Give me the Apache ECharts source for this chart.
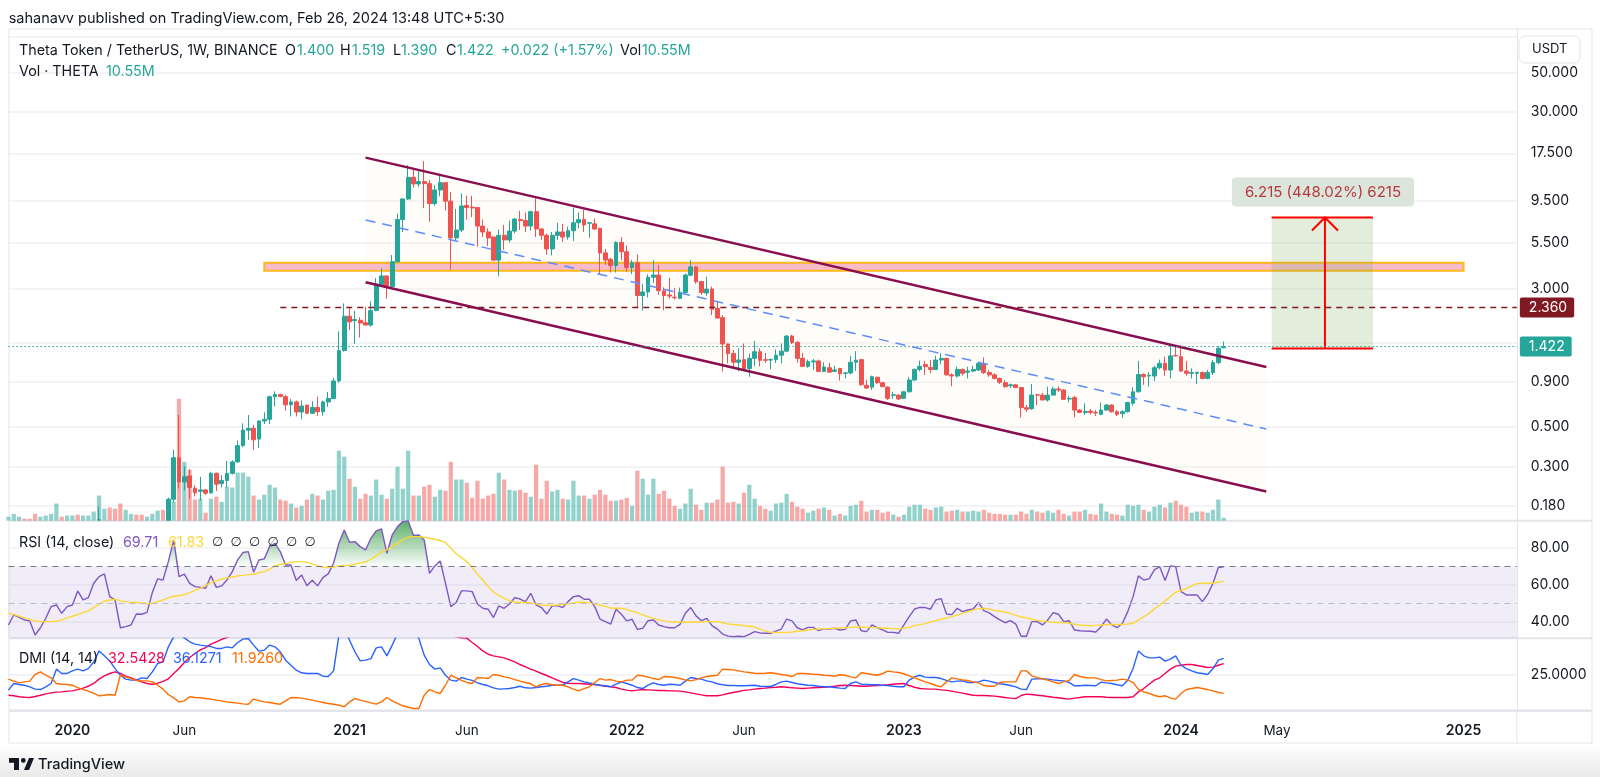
<!DOCTYPE html>
<html>
<head>
    <meta charset="utf-8">
    <title>THETA/USDT 1W</title>
    <script src="https://cdn.jsdelivr.net/npm/echarts@6/dist/echarts.min.js"></script>
    <style>
        html, body { margin: 0; padding: 0; background: #fff; }
        #main { width: 1600px; height: 777px; }
    </style>
</head>
<body>
<div id="main"></div>

<script type="text/javascript">
    // weekly rows: open, high, low, close. starts 2019-10-14, ends 2024-02-26
    // the first rows lie under the pane, nothing of them can be read
    var ohlc = [
        [.098,.104,.094,.100],[.100,.108,.096,.104],[.104,.110,.100,.108],[.108,.110,.102,.106],[.106,.108,.100,.103],
        [.103,.106,.092,.096],[.096,.104,.093,.101],[.101,.108,.099,.105],[.105,.115,.103,.112],[.112,.135,.110,.128],
        [.128,.130,.112,.118],[.118,.126,.114,.122],[.122,.130,.118,.126],[.126,.128,.116,.120],[.120,.128,.116,.125],
        [.125,.130,.118,.128],[.128,.140,.120,.136],[.1495,.178,.149,.150],[.128,.146,.120,.135],[.135,.140,.118,.124],
        [.124,.130,.112,.118],[.118,.120,.098,.102],[.102,.112,.096,.108],[.108,.114,.104,.110],[.110,.112,.104,.106],
        [.106,.110,.102,.104],[.104,.112,.102,.110],[.110,.125,.108,.122],[.122,.142,.120,.136],[.136,.146,.128,.132],
        [.149,.200,.149,.196],[.196,.373,.188,.336],[.336,.585,.225,.245],[.245,.300,.220,.262],[.265,.290,.197,.228],
        [.226,.235,.203,.213],[.217,.262,.193,.221],[.221,.224,.207,.212],[.213,.280,.210,.274],[.274,.277,.218,.238],
        [.240,.268,.228,.250],[.250,.322,.228,.274],[.274,.325,.270,.318],[.318,.420,.314,.393],[.393,.525,.385,.481],
        [.480,.585,.424,.492],[.492,.515,.372,.424],[.428,.548,.380,.541],[.541,.606,.520,.553],[.553,.752,.520,.742],
        [.742,.795,.653,.763],[.763,.770,.735,.745],[.742,.760,.618,.667],[.667,.720,.574,.693],[.693,.705,.574,.608],
        [.608,.705,.553,.657],[.665,.667,.590,.598],[.598,.700,.592,.645],[.645,.742,.578,.610],[.610,.705,.580,.693],
        [.693,.790,.650,.725],[.725,.945,.720,.910],[.910,1.735,.890,1.35],[1.35,2.49,1.33,2.11],[2.11,2.36,1.76,1.96],
        [1.99,2.26,1.47,2.02],[2.00,2.08,1.60,1.93],[1.94,2.38,1.87,1.88],[1.88,2.57,1.84,2.27],[2.27,3.46,2.25,3.20],
        [3.17,3.93,3.10,3.56],[3.56,3.56,2.64,3.10],[3.10,4.67,3.08,4.28],[4.28,8.00,4.23,7.40],[7.40,9.75,6.30,9.67],
        [9.67,15.0,9.55,12.8],[12.8,14.2,11.2,11.75],[11.75,14.2,11.3,12.12],[12.12,15.8,8.60,11.8],[11.8,12.37,7.20,9.10],
        [9.10,11.6,8.85,10.87],[10.87,13.2,10.0,11.95],[11.95,12.0,8.30,9.40],[9.40,10.6,3.84,5.83],[5.83,8.50,5.65,6.46],
        [6.46,10.4,6.30,8.83],[8.90,10.1,7.40,8.65],[8.70,10.05,7.65,8.60],[8.65,8.70,5.20,6.80],[6.80,7.40,5.90,6.30],
        [6.30,6.60,5.25,5.83],[5.90,5.90,4.33,4.37],[4.37,6.50,3.54,6.03],[6.03,6.90,5.00,5.68],[5.68,7.30,5.50,6.37],
        [6.37,7.55,6.20,7.45],[7.42,8.30,6.46,7.30],[7.30,8.10,6.30,6.80],[6.80,8.30,6.40,8.20],[8.20,9.75,5.90,6.55],
        [6.55,6.60,5.68,6.03],[6.03,6.15,4.70,5.05],[5.05,6.30,4.65,6.03],[6.03,7.10,5.68,6.30],[6.30,7.00,5.55,5.90],
        [5.90,6.75,5.70,6.40],[6.40,8.65,5.60,7.10],[7.10,8.10,6.60,7.40],[7.40,8.40,6.30,6.90],[7.05,7.15,5.85,7.10],
        [7.00,7.50,6.46,6.55],[6.60,6.60,3.60,4.80],[4.80,5.05,4.10,4.37],[4.42,4.50,3.72,4.07],[4.07,5.58,3.72,5.50],
        [5.50,5.90,4.37,4.87],[4.87,5.30,3.75,3.97],[3.97,4.38,3.65,4.22],[4.22,4.70,2.34,2.76],[2.76,3.20,2.27,2.89],
        [2.89,3.63,2.69,3.50],[3.50,4.37,3.25,3.60],[3.60,4.10,2.78,2.94],[2.93,3.07,2.28,2.76],[2.78,3.47,2.65,2.74],
        [2.70,3.04,2.62,2.68],[2.66,3.06,2.63,2.88],[2.87,3.67,2.84,3.60],[3.59,4.37,3.55,4.00],[4.00,4.05,3.22,3.30],
        [3.31,3.34,2.78,2.87],[2.85,3.52,2.75,3.00],[3.00,3.10,2.14,2.31],[2.33,2.55,2.04,2.06],[2.07,2.14,1.03,1.47],
        [1.47,1.48,1.144,1.30],[1.30,1.36,1.07,1.16],[1.16,1.39,1.03,1.195],[1.20,1.48,1.05,1.07],[1.07,1.30,.960,1.22],
        [1.22,1.53,1.10,1.33],[1.33,1.39,1.10,1.19],[1.20,1.31,1.15,1.19],[1.195,1.22,1.06,1.20],[1.20,1.37,1.15,1.27],
        [1.27,1.48,1.144,1.34],[1.34,1.65,1.32,1.63],[1.63,1.66,1.47,1.50],[1.50,1.53,1.15,1.22],[1.22,1.31,1.09,1.10],
        [1.10,1.20,1.08,1.17],[1.165,1.21,1.05,1.18],[1.18,1.20,1.02,1.03],[1.03,1.16,1.02,1.09],[1.08,1.15,1.01,1.02],
        [1.03,1.11,1.02,1.05],[1.07,1.08,.915,1.00],[1.005,1.02,.940,1.01],[1.01,1.26,.990,1.16],[1.16,1.34,1.04,1.19],
        [1.20,1.21,.850,.868],[.860,.925,.820,.830],[.840,.975,.810,.961],[.955,.960,.875,.890],[.890,.900,.840,.845],
        [.840,.850,.710,.726],[.755,.790,.720,.760],[.757,.765,.710,.720],[.726,.797,.720,.790],[.790,.960,.785,.921],
        [.921,1.07,.910,1.057],[1.057,1.185,1.03,1.10],[1.125,1.18,.985,1.095],[1.085,1.194,1.005,1.057],[1.057,1.26,1.05,1.194],
        [1.194,1.303,1.13,1.22],[1.22,1.23,.975,.985],[.985,1.005,.850,.970],[.970,1.095,.950,1.057],[1.057,1.07,.975,1.005],
        [1.02,1.095,.940,1.035],[1.035,1.11,1.02,1.057],[1.049,1.17,1.035,1.144],[1.13,1.235,.995,1.015],[1.015,1.049,.960,.985],
        [.985,1.005,.930,.940],[.940,.950,.875,.895],[.890,.920,.835,.845],[.855,.880,.830,.865],[.865,.875,.830,.835],
        [.835,.840,.567,.643],[.643,.665,.610,.630],[.635,.875,.625,.757],[.760,.765,.665,.757],[.757,.780,.705,.711],
        [.711,.845,.695,.757],[.757,.845,.757,.820],[.820,.850,.790,.809],[.809,.817,.711,.717],[.720,.750,.688,.726],
        [.733,.750,.567,.623],[.623,.632,.598,.605],[.605,.681,.585,.612],[.615,.632,.590,.605],[.605,.623,.577,.600],
        [.590,.688,.583,.623],[.623,.675,.617,.665],[.665,.672,.603,.610],[.610,.623,.577,.590],[.595,.623,.565,.610],
        [.610,.695,.603,.688],[.681,.840,.660,.790],[.790,1.18,.785,.990],[.990,1.005,.865,.961],[.970,1.02,.845,.980],
        [.970,1.11,.910,1.08],[1.08,1.20,1.057,1.144],[1.144,1.247,.975,1.049],[1.049,1.43,.940,1.26],[1.265,1.45,1.25,1.26],
        [1.247,1.45,1.025,1.035],[1.035,1.18,.975,1.005],[1.005,1.07,.940,1.015],[1.005,1.02,.875,1.02],[1.015,1.03,.930,.940],
        [.940,1.049,.930,1.015],[1.015,1.194,.985,1.155],[1.155,1.43,1.13,1.39],[1.400,1.519,1.390,1.422]
    ];

    // volume per week, millions
    var volumes = [
        14,24,14,7,7,24,14,18,24,60,14,18,18,21,18,18,32,88,42,46,42,60,38,24,21,21,14,24,35,38,
        74,66,427,206,178,74,77,28,77,84,66,119,116,168,168,154,88,74,91,126,116,74,70,60,46,52,74,94,88,74,
        105,108,245,224,147,119,77,94,88,144,91,77,112,189,112,245,88,88,119,126,84,108,105,206,144,144,133,80,140,77,
        88,94,168,144,108,105,108,98,84,196,77,140,102,108,77,74,140,88,88,77,91,108,91,70,70,74,80,52,175,147,
        91,147,94,105,77,52,42,60,112,56,38,63,63,74,189,63,66,60,98,126,77,52,42,35,60,63,94,66,49,42,
        28,35,42,46,38,18,24,18,52,56,70,32,38,38,28,32,21,14,21,49,56,56,42,38,46,49,32,35,38,32,
        32,35,32,38,28,24,24,21,21,21,32,24,38,32,28,35,28,38,24,18,32,32,38,24,21,60,32,24,21,18,
        56,52,56,38,32,49,56,46,63,70,56,49,28,32,32,28,38,74,10.55
    ];

    var rsi = [
        38.3,43.7,42.4,41,40.5,32.9,36.8,41.9,48.2,49.1,44.6,48.2,49.1,56.7,51.8,53.1,60.8,64.4,65.9,53.6,
        51.8,36.8,37.4,38.3,44.2,44.1,45.1,55.9,63.2,62.6,72.5,84.2,64.4,65.7,60.8,59,58.6,58.1,64.8,58.6,
        59.4,62.6,67.1,73.4,77.4,77.9,66.8,73.4,74,80.6,82.4,77.9,70.7,70.7,62.3,65.3,59.5,62.4,59.4,63.9,
        65.9,71.6,82.4,89.6,83,83.3,80.6,78.8,85.1,89.1,90.2,77,86.9,91.4,94.1,94.5,86.6,86.9,84.2,66.2,
        70.2,72.9,60.8,48.2,50.4,56.7,56.7,56.3,49.6,47.3,46.8,42.3,48.6,47.3,49.6,53.1,52.3,50.9,55.4,49.1,
        47.7,44.2,48.6,48.7,47.7,50.9,53.6,54.1,52.2,52.2,48.2,41.4,40.1,38.8,46.8,
        44.1,40.5,41.4,35.9,36.5,40.6,41,38.3,37.4,36.8,36.8,38.6,44.6,47.7,43.2,40.6,41.9,37.9,36.1,33.4,
        32.3,32,32.2,32,33.2,34.7,34,33.8,33.8,35,36.1,41.5,40.5,36.8,35.6,37,37,35.2,36.3,36.1,
        36.5,35.6,35.9,40.5,41,35.2,34.7,38.3,36.8,35.6,34.3,34.3,33.8,38.3,42.8,46.9,47.8,47.7,46.8,51.8,
        52.5,44.2,43.9,47.3,45.5,46.4,46.9,50.4,46,44.8,42.8,41,39.5,40.6,38.8,32.2,32.2,40.1,40.1,38.3,
        41,45,44.1,40.1,40.6,35.6,35.2,35,34.9,34.5,37.4,41.5,38.3,36.8,39.2,45.5,53.6,64.8,62.6,63.2,
        68,69.8,62.3,70.2,69.8,56.3,54.5,54.5,54.5,50.9,54.9,60.8,69.3,69.71
    ];
    var rsiMa = [
        44.6,43.9,43,42.1,41.2,40.5,40.1,40.1,40.1,40.3,41,42.1,43,43.9,45,45.9,47.7,49.5,51.1,51.8,
        52.2,51.3,50.9,50.5,50.4,50,49.8,50,50.9,51.8,52.9,53.8,54.2,54.5,55.8,57,58.1,59.7,61.2,62.1,
        63,63.7,64.2,64.8,65.1,65.5,65.7,66.6,67.1,68.4,70.2,71.1,71.4,72.2,72.5,72.5,72.2,71.3,70.2,69.5,
        69.3,69.6,70.2,70.4,70.5,71.1,71.8,72.3,73.8,75.6,77.7,78.8,80.6,82.4,84.2,85.7,86,86,85.7,85.1,
        84.6,83.9,82.8,79.7,76.7,74.7,72.5,69.3,65.7,62.6,59,56,54.2,52.7,51.3,50.7,50.4,50.4,50.2,49.7,
        49.1,48.9,48.9,49.1,49.3,49.7,50.2,50.6,50.6,50.2,49.7,49.1,48.2,47.5,47.3,
        47.3,46.6,45.7,44.8,43.7,42.8,41.9,41,40.5,40.1,39.9,39.9,39.8,39.8,39.9,39.9,40.1,40.1,40.1,39.5,
        38.8,38.6,38.3,37.9,37.6,37.2,36.1,35,34.3,34.2,34.2,34.3,34.5,34.9,35.2,35.6,35.9,36.1,36.3,36.3,
        36.5,36.7,36.8,37,37.2,37.2,37,37,36.8,36.7,36.5,36.3,36.3,36.5,37,38.1,38.5,39,39.9,40.8,
        41.4,42.1,42.8,43.7,44.6,45.5,46.4,47.1,47.3,46.8,46.2,45.7,45.3,44.4,43.5,42.6,42.1,41.4,40.8,40.3,
        40.1,39.8,39.6,39.6,39.2,38.7,38.3,38.1,37.9,38.1,38.3,38.5,38.7,38.5,38.7,38.8,39.2,41,42.8,44.6,
        47,49.1,51.3,53.6,56,56.9,58.1,59.4,60.6,60.8,60.8,60.8,61.4,61.83
    ];

    var plusDi = [
        14.2,18.8,18.1,17.6,16.5,14.9,14.6,16.5,18.8,28.7,25.7,25.7,27.5,28.7,27.5,29.1,33.7,41.3,37.9,34.4,
        29.1,24.5,21.8,21.1,21.1,22.7,22.2,26.8,32.6,33.7,44.1,51,53,50.3,47.6,46,45.3,44.8,44.3,43,
        43,44.1,43.4,47.1,49.4,49.9,45.3,41.1,41.8,45.3,44.1,40.7,34.9,31.4,28,26.2,25.7,25.7,25.7,23.8,
        23.6,27.5,52,56.8,48.7,40.7,34.4,34.9,36,43.4,44.1,37.9,45.3,53.3,56.8,57.9,55.6,49.9,38.4,31.9,
        28.7,29.6,24.5,21.1,20.4,22.9,21.8,20.9,19.2,18.1,17.2,15.8,14.9,15.1,15.3,16,16.9,15.8,15.6,16,
        16.5,16.9,17.6,17.6,17.6,19.9,22.2,21.1,19.9,19.2,18.3,17.6,17.2,16.5,18.3,
        19.9,18.8,17.6,16,15.3,17.6,19.2,18.1,17.6,18.3,18.1,17.6,20.4,22.9,22.2,21.8,20.6,19.9,18.6,17.9,
        17.4,17.4,17.2,17.2,17.4,17.6,16.9,16.7,16.7,18.1,19.9,20.4,19.5,18.6,18.1,17.6,17.4,16.9,16.5,16.5,
        16,15.6,15.3,18.8,19.9,18.3,18.1,17.9,17.9,17.6,17.4,16.9,16.5,16.5,21.1,23.4,24.5,23.2,22.9,22.9,
        22.2,20.9,19.9,20.4,20.6,19.5,19.5,19.9,21.1,20.4,19.5,18.6,18.1,17.4,16.5,14.9,14.6,21.8,22,22,
        21.8,21.3,20.9,20.6,19.5,17.2,17.2,17.6,17.4,17.2,19.7,19.2,18.8,17.9,17.2,21.1,29.1,41.3,37.9,36.5,
        36.5,37,34.2,35.6,37.9,31.4,29.1,27.5,26.2,25.7,25,29.1,34.9,36.13
    ];
    var minusDi = [
        21.8,20.4,19.2,19.9,20.4,25,26.8,24.5,22.7,18.8,18.3,18.1,17.6,16,14.6,13.5,11.9,10.3,10.7,11.2,
        10.7,24.5,23.4,22.2,20.9,20.6,20.6,19.9,17.6,14.9,11.2,8.9,6.1,6.8,9.6,9.1,8.9,8.4,8,7.3,
        6.8,6.1,5.7,5.2,4.7,4.5,8,7,6.1,5.7,5,4.5,6.8,9.1,8.9,8.7,8,7.3,6.4,5.7,
        5,4.5,3.8,2.7,6.1,8.4,7.3,6.4,5.4,4.5,6.1,9.1,6.8,5,3.4,2.4,1.5,1.5,10.7,14.6,
        13,11.9,17.6,24.5,22.7,20.9,19.5,18.8,22.9,22.7,22.2,25,24.5,23.4,22.7,21.5,20.4,19.5,18.6,16.5,
        18.1,18.8,17.9,17.6,17.6,16.5,14.9,13.7,15.3,16.5,19.5,22.2,21.1,21.5,20.4,
        19.9,21.1,21.1,24.5,24.1,23.2,22.2,21.5,23.6,23.4,22.9,22.2,21.3,20.6,21.5,22.7,23.6,24.1,24.5,28.7,
        28.5,28.2,27.5,26.8,26.4,25.9,25.7,25.9,26.2,25.7,25,24.5,23.6,25.7,25.7,25.5,25.2,25,24.5,24.3,
        23.8,24.8,24.5,23.4,22.7,26.2,25.7,25,24.5,25.7,27.3,26.8,26.4,25.5,24.1,22.7,21.3,19.9,18.8,17.4,
        16.5,19.9,22.7,22,21.3,20.9,19.9,19.2,17.4,16.9,16.9,19.5,19.9,19.9,19.9,27.5,27.5,24.1,22.9,22,
        21.1,19.9,18.8,19.9,20.9,25,23.6,22.9,22.7,22.7,21.5,20.6,20.9,21.1,21.8,21.1,19.5,14.9,13,11.9,
        10.5,9.6,10.3,8.9,8,11.9,14.6,15.3,16,15.3,14.6,13.7,12.6,11.926
    ];
    // adx sits above the pane between mid 2020 and autumn 2021, those values are guesses
    var adx = [
        10.7,10.3,9.6,9.3,9.1,9.8,10.7,11.6,12.3,12.8,13,13.5,13.7,14.6,15.6,16.9,18.8,21.8,24.1,25.7,
        26.8,25.7,23.8,22.7,21.3,19.9,18.8,18.3,19,20.2,22,25.7,29.1,33.3,36.7,39.5,42,43.6,46,47.6,
        49.2,50.6,52,54,56,57,58,58,59,59,59,58,57,56,55,54,53,52,52,53,
        54,55,56,58,60,61,62,64,65,66,67,68,68,68,68,67,66,64,62,60,
        58,56,54,52,51,50.4,50.1,47.1,44.3,41.3,39,37.9,37.2,36.5,35.1,33.7,31.9,30.3,28.7,27.3,
        25.7,24.3,22.7,21.1,19.5,19,18.8,18.8,18.6,18.3,18.1,17.6,16.9,16.5,16,
        14.9,14.2,13.7,14.2,14.6,14.4,14.2,14,14,13.7,13.7,13.5,13,12.3,11.6,10.9,10.3,10.3,10.3,10.9,
        11.9,12.6,13.3,14,14.4,14.9,15.3,15.6,16,16.2,16.5,16.2,15.8,15.6,15.3,15.6,15.8,16,16.2,16.5,
        16.9,17.4,17.6,17.4,17.2,16.9,16.9,17.2,17.4,17.6,17.9,18.3,18.6,18.8,17.4,16.2,15.3,15.1,14.9,14.9,
        14.4,14,13.5,12.8,12.1,11.4,10.7,10.5,10.5,10.3,10.1,9.6,9.1,8.7,8.4,10.5,11.4,11.2,10.7,10.3,
        9.8,9.3,8.9,8.4,8,8.7,9.1,9.6,9.6,9.6,9.6,9.3,9.1,9.1,9.1,9.1,9.6,13,15.3,18.3,
        21.1,22.7,25.7,28.7,30.8,31.4,31.9,31.9,31.2,30.5,29.8,30.1,31.4,32.5428
    ];

    // week slots on the time axis, running on past the last candle up to the price scale
    var weeks = [];
    for (var w = 0; w < 284; w++) {
        weeks.push(new Date(Date.UTC(2019, 9, 14 + w * 7)).toISOString().slice(0, 10));
    }
    var timeTicks = ['2020-01-06', '2020-06-01', '2021-01-04', '2021-06-07', '2022-01-03', '2022-06-06',
        '2023-01-02', '2023-06-05', '2024-01-01', '2024-05-06', '2025-01-06'];
    var timeLabels = ['2020', 'Jun', '2021', 'Jun', '2022', 'Jun', '2023', 'Jun', '2024', 'May', '2025'];

    var priceGrid = [80, 50, 30, 17.5, 9.5, 5.5, 3, 1.5, 0.9, 0.5, 0.3, 0.18];
    var priceLabels = [50, 30, 17.5, 9.5, 5.5, 3, 0.9, 0.5, 0.3, 0.18];
    var rsiTicks = [80, 60, 40];
    var dmiTicks = [25];

    // drawings on the chart: week slot, price
    var channelWeeks = [67, 236];
    var channelUpper = [16.53, 1.091];
    var channelLower = [3.277, 0.2166];
    var channelMid = [7.36, 0.4875];
    var zoneWeeks = [48, 273];
    var zonePrices = [4.23, 3.81];
    var measureWeeks = [237, 256, 247];
    var measurePrices = [1.3872, 7.6022];
    var resistance = 2.36;
    var lastPrice = 1.422;
    var resistanceFrom = 51;

    var UP = '#26a69a', DOWN = '#ef5350';
    var FONT = 'Inter';
    var GRID = '#f0f1f4', BORDER = '#e3e5ea';
    var LEFT = 8.44, RIGHT = 83.16;

    var candleData = ohlc.map(function (r) { return [r[0], r[3], r[2], r[1]]; });
    var volumeData = volumes.map(function (v, i) {
        var up = ohlc[i][3] >= ohlc[i][0];
        return { value: v, itemStyle: { color: up ? 'rgba(38,166,154,.5)' : 'rgba(239,83,80,.5)' } };
    });
    var rsiAbove = rsi.map(function (v) { return Math.max(v, 70); });

    function text(x, y, str, color, size, weight, family) {
        return {
            type: 'text', x: x, y: y, silent: true, z: 50,
            style: { text: str, fill: color, font: (weight || 400) + ' ' + (size || 14) + 'px ' + (family || FONT), verticalAlign: 'middle' }
        };
    }
    function hLine(x1, x2, y, w) {
        return { type: 'line', silent: true, z: 1, shape: { x1: x1, y1: y, x2: x2, y2: y }, style: { stroke: BORDER, lineWidth: w || 1 } };
    }

    var myChart = echarts.init(document.getElementById('main'));
    myChart.setOption({
        animation: false,
        backgroundColor: '#fff',
        textStyle: { fontFamily: FONT },
        grid: [
            { left: LEFT, right: RIGHT, top: 29, height: 491.7 },
            { left: LEFT, right: RIGHT, top: 520.7, height: 117.6 },
            { left: LEFT, right: RIGHT, top: 638.3, height: 72.4 }
        ],
        xAxis: [0, 1, 2].map(function (i) {
            return {
                type: 'category', gridIndex: i, data: weeks, boundaryGap: false,
                axisLine: { show: false }, axisTick: { show: false }, splitLine: { show: false },
                axisLabel: i < 2 ? { show: false } : {
                    interval: function (idx, val) { return timeTicks.indexOf(val) >= 0; },
                    formatter: function (val) {
                        var s = timeLabels[timeTicks.indexOf(val)];
                        return s.length === 4 ? '{y|' + s + '}' : '{m|' + s + '}';
                    },
                    margin: 13,
                    rich: {
                        y: { fontFamily: FONT, fontSize: 14, fontWeight: 600, color: '#131722' },
                        m: { fontFamily: FONT, fontSize: 13.5, color: '#131722' }
                    }
                }
            };
        }),
        yAxis: [
            {
                type: 'log', gridIndex: 0, logBase: 10, min: 0.1482, max: 87.9, position: 'right',
                axisLine: { show: true, lineStyle: { color: BORDER } },
                axisTick: { show: false, customValues: priceGrid },
                splitLine: { show: true, lineStyle: { color: GRID, width: 1.5 } },
                axisLabel: {
                    customValues: priceLabels, margin: 14, color: '#131722', fontSize: 14, fontFamily: FONT, padding: [2, 0, 0, 0],
                    formatter: function (v) { return Number(v).toFixed(3); }
                }
            },
            { type: 'value', gridIndex: 0, min: 0, max: 1721, show: false, splitLine: { show: false } },
            {
                type: 'value', gridIndex: 1, min: 31.1, max: 94.6, position: 'right',
                axisLine: { show: true, lineStyle: { color: BORDER } },
                axisTick: { show: false, customValues: rsiTicks },
                splitLine: { show: true, lineStyle: { color: GRID, width: 1.5 } },
                axisLabel: {
                    customValues: rsiTicks, margin: 14, color: '#131722', fontSize: 14, fontFamily: FONT, padding: [2, 0, 0, 0],
                    formatter: function (v) { return Number(v).toFixed(2); }
                }
            },
            {
                type: 'value', gridIndex: 2, min: 0, max: 50, position: 'right',
                axisLine: { show: true, lineStyle: { color: BORDER } },
                axisTick: { show: false, customValues: dmiTicks },
                splitLine: { show: true, lineStyle: { color: GRID, width: 1.5 } },
                axisLabel: {
                    customValues: dmiTicks, margin: 14, color: '#131722', fontSize: 14, fontFamily: FONT,
                    formatter: function (v) { return Number(v).toFixed(4); }
                }
            }
        ],
        series: [
            {
                // channel fill and the orange zone, below the candles
                type: 'custom', xAxisIndex: 0, yAxisIndex: 0, z: 1, data: [[0, 1]], silent: true,
                renderItem: function (params, api) {
                    var a = api.coord([channelWeeks[0], channelUpper[0]]), b = api.coord([channelWeeks[1], channelUpper[1]]);
                    var c = api.coord([channelWeeks[1], channelLower[1]]), d = api.coord([channelWeeks[0], channelLower[0]]);
                    var z1 = api.coord([zoneWeeks[0], zonePrices[0]]), z2 = api.coord([zoneWeeks[1], zonePrices[1]]);
                    return {
                        type: 'group', children: [
                            { type: 'polygon', shape: { points: [a, b, c, d] }, style: { fill: 'rgba(255,236,190,.09)' } },
                            {
                                type: 'rect', shape: { x: z1[0], y: z1[1], width: z2[0] - z1[0], height: z2[1] - z1[1] },
                                style: { fill: '#f8bbc9', stroke: '#ffb71c', lineWidth: 2 }
                            }
                        ]
                    };
                }
            },
            {
                name: 'Vol', type: 'bar', xAxisIndex: 0, yAxisIndex: 1, z: 2, barWidth: 4.2, data: volumeData, silent: true
            },
            {
                name: 'THETA', type: 'candlestick', xAxisIndex: 0, yAxisIndex: 0, z: 3, barWidth: 4.3, data: candleData, silent: true,
                itemStyle: { color: UP, color0: DOWN, borderColor: UP, borderColor0: DOWN, borderWidth: 1 },
                markLine: {
                    silent: true, symbol: 'none', animation: false,
                    data: [
                        [
                            { coord: [resistanceFrom, resistance], lineStyle: { color: '#801922', type: [6, 5], width: 1.4 },
                              label: { show: true, position: 'end', distance: 3, formatter: resistance.toFixed(3), color: '#fff', fontFamily: FONT, fontSize: 14, backgroundColor: '#801922', padding: [3, 7, 3, 9], borderRadius: 2 } },
                            { coord: [weeks.length - 1, resistance] }
                        ],
                        [
                            { coord: [0, lastPrice], lineStyle: { color: UP, type: [1.5, 2.5], width: 1 },
                              label: { show: true, position: 'end', distance: 3, formatter: lastPrice.toFixed(3), color: '#fff', fontFamily: FONT, fontSize: 14, backgroundColor: UP, padding: [3, 7, 3, 9], borderRadius: 2 } },
                            { coord: [weeks.length - 1, lastPrice] }
                        ]
                    ]
                }
            },
            {
                // channel lines and the measure box, above the candles
                type: 'custom', xAxisIndex: 0, yAxisIndex: 0, z: 4, data: [[0, 1]], silent: true,
                renderItem: function (params, api) {
                    function seg(arr, stroke, w, dash) {
                        var p = api.coord([channelWeeks[0], arr[0]]), q = api.coord([channelWeeks[1], arr[1]]);
                        return {
                            type: 'line', shape: { x1: p[0], y1: p[1], x2: q[0], y2: q[1] },
                            style: { stroke: stroke, lineWidth: w, lineDash: dash }
                        };
                    }
                    var lo = api.coord([measureWeeks[0], measurePrices[0]]);
                    var hi = api.coord([measureWeeks[1], measurePrices[1]]);
                    var mx = api.coord([measureWeeks[2], measurePrices[1]]);
                    var mb = api.coord([measureWeeks[2], measurePrices[0]]);
                    var red = { stroke: '#ff0000', lineWidth: 2, fill: 'none' };
                    var diff = measurePrices[1] - measurePrices[0];
                    var label = diff.toFixed(3) + ' (' + (diff / measurePrices[0] * 100).toFixed(2) + '%) ' + Math.round(diff * 1000);
                    return {
                        type: 'group', children: [
                            seg(channelUpper, '#880e4f', 2.4),
                            seg(channelLower, '#880e4f', 2.4),
                            seg(channelMid, '#5c8cff', 1.5, [10, 7]),
                            {
                                type: 'rect', shape: { x: lo[0], y: hi[1], width: hi[0] - lo[0], height: lo[1] - hi[1] },
                                style: { fill: 'rgba(110,165,80,.2)' }
                            },
                            { type: 'line', shape: { x1: lo[0], y1: hi[1], x2: hi[0], y2: hi[1] }, style: red },
                            { type: 'line', shape: { x1: lo[0], y1: lo[1], x2: hi[0], y2: lo[1] }, style: red },
                            { type: 'line', shape: { x1: mx[0], y1: mb[1], x2: mx[0], y2: mx[1] }, style: red },
                            { type: 'polyline', shape: { points: [[mx[0] - 13, mx[1] + 13], [mx[0], mx[1]], [mx[0] + 13, mx[1] + 13]] }, style: red },
                            {
                                type: 'text', x: mx[0] - 2, y: hi[1] - 25.5,
                                style: {
                                    text: label, font: '400 15px ' + FONT, fill: '#b5393f', align: 'center', verticalAlign: 'middle',
                                    backgroundColor: '#dce5db', padding: [7, 13], borderRadius: 4
                                }
                            }
                        ]
                    };
                }
            },
            {
                name: 'RSI', type: 'line', xAxisIndex: 1, yAxisIndex: 2, data: rsi, symbol: 'none', z: 3, silent: true,
                lineStyle: { color: '#7e57c2', width: 1.4 },
                markArea: {
                    silent: true, itemStyle: { color: 'rgba(126,87,194,.11)' },
                    data: [[{ yAxis: 70 }, { yAxis: 31.1 }]]
                },
                markLine: {
                    silent: true, symbol: 'none', label: { show: false },
                    data: [
                        { yAxis: 70, lineStyle: { color: '#787b86', type: [6, 5], width: 1.2 } },
                        { yAxis: 50, lineStyle: { color: '#b9bcc4', type: [6, 5], width: 1.2 } }
                    ]
                }
            },
            {
                name: 'RSI above 70', type: 'line', xAxisIndex: 1, yAxisIndex: 2, data: rsiAbove, symbol: 'none', z: 2, silent: true,
                lineStyle: { width: 0 },
                areaStyle: {
                    origin: 70,
                    opacity: 1,
                    color: new echarts.graphic.LinearGradient(0, 0, 0, 1, [
                        { offset: 0, color: 'rgba(60,160,75,.85)' },
                        { offset: 1, color: 'rgba(60,160,75,.02)' }
                    ])
                }
            },
            {
                name: 'RSI MA', type: 'line', xAxisIndex: 1, yAxisIndex: 2, data: rsiMa, symbol: 'none', z: 3, silent: true,
                lineStyle: { color: '#fdd835', width: 1.4 }
            },
            {
                name: 'ADX', type: 'line', xAxisIndex: 2, yAxisIndex: 3, data: adx, symbol: 'none', silent: true,
                lineStyle: { color: '#f50057', width: 1.4 }
            },
            {
                name: '+DI', type: 'line', xAxisIndex: 2, yAxisIndex: 3, data: plusDi, symbol: 'none', silent: true,
                lineStyle: { color: '#2962ff', width: 1.4 }
            },
            {
                name: '-DI', type: 'line', xAxisIndex: 2, yAxisIndex: 3, data: minusDi, symbol: 'none', silent: true,
                lineStyle: { color: '#ff6d00', width: 1.4 }
            }
        ],
        graphic: [
            // panel frame and separators
            hLine(9, 1592, 29), hLine(9, 1592, 520.7, 2), hLine(9, 1592, 638.3, 2), hLine(9, 1592, 710.7, 2.5), hLine(9, 1592, 743),
            { type: 'line', silent: true, z: 1, shape: { x1: 9, y1: 29, x2: 9, y2: 743 }, style: { stroke: BORDER } },
            { type: 'line', silent: true, z: 1, shape: { x1: 1592, y1: 29, x2: 1592, y2: 743 }, style: { stroke: BORDER } },
            { type: 'line', silent: true, z: 1, shape: { x1: 1516.8, y1: 710, x2: 1516.8, y2: 743 }, style: { stroke: BORDER } },
            {
                type: 'rect', silent: true, z: 0, shape: { x: 0, y: 744, width: 1600, height: 33 },
                style: { fill: new echarts.graphic.LinearGradient(0, 0, 0, 1, [{ offset: 0, color: '#ffffff' }, { offset: 1, color: '#e9e9e9' }]) }
            },
            // USDT button
            {
                type: 'rect', silent: true, z: 40, shape: { x: 1519, y: 36, width: 61, height: 27, r: 6 },
                style: { fill: '#fff', stroke: '#e0e3eb' }
            },
            text(1532, 49.5, 'USDT', '#131722', 13),
            // legends
            text(8.7, 19, 'sahanavv published on TradingView.com, Feb 26, 2024 13:48 UTC+5:30', '#131722', 14.5),
            text(19, 51, 'Theta Token / TetherUS, 1W, BINANCE', '#131722', 14.3),
            text(285, 51, 'O', '#131722', 14.3), text(297, 51, '1.400', UP, 14.3),
            text(340, 51, 'H', '#131722', 14.3), text(352, 51, '1.519', UP, 14.3),
            text(393, 51, 'L', '#131722', 14.3), text(401, 51, '1.390', UP, 14.3),
            text(446, 51, 'C', '#131722', 14.3), text(457, 51, '1.422', UP, 14.3),
            text(501, 51, '+0.022 (+1.57%)', UP, 14.3),
            text(620, 51, 'Vol', '#131722', 14.3), text(642, 51, '10.55M', UP, 14.3),
            text(19, 71.7, 'Vol · THETA', '#131722', 14.3), text(106, 71.7, '10.55M', UP, 14.3),
            text(19, 543, 'RSI (14, close)', '#131722', 14.3),
            text(123, 543, '69.71', '#7e57c2', 14.3), text(168, 543, '61.83', '#fdd835', 14.3),
            text(212, 543, '∅', '#131722', 13, 400, 'DejaVu Sans'), text(230.5, 543, '∅', '#131722', 13, 400, 'DejaVu Sans'),
            text(249, 543, '∅', '#131722', 13, 400, 'DejaVu Sans'), text(267.5, 543, '∅', '#131722', 13, 400, 'DejaVu Sans'),
            text(286, 543, '∅', '#131722', 13, 400, 'DejaVu Sans'), text(304.5, 543, '∅', '#131722', 13, 400, 'DejaVu Sans'),
            text(19, 659, 'DMI (14, 14)', '#131722', 14.3),
            text(108, 659, '32.5428', '#f50057', 14.3), text(173, 659, '36.1271', '#2962ff', 14.3), text(232, 659, '11.9260', '#ff6d00', 14.3),
            // footer logo, drawn from simple shapes
            { type: 'polygon', silent: true, z: 50, shape: { points: [[19, 758], [9, 758], [9, 762.8], [14, 762.8], [14, 770], [19, 770]] }, style: { fill: '#131722' } },
            { type: 'polygon', silent: true, z: 50, shape: { points: [[29, 770], [24, 770], [29, 758], [34, 758]] }, style: { fill: '#131722' } },
            { type: 'circle', silent: true, z: 50, shape: { cx: 23.3, cy: 760.4, r: 2.4 }, style: { fill: '#131722' } },
            text(38, 765, 'TradingView', '#131722', 14.5, 500)
        ]
    });
</script>
</body>

</html>
